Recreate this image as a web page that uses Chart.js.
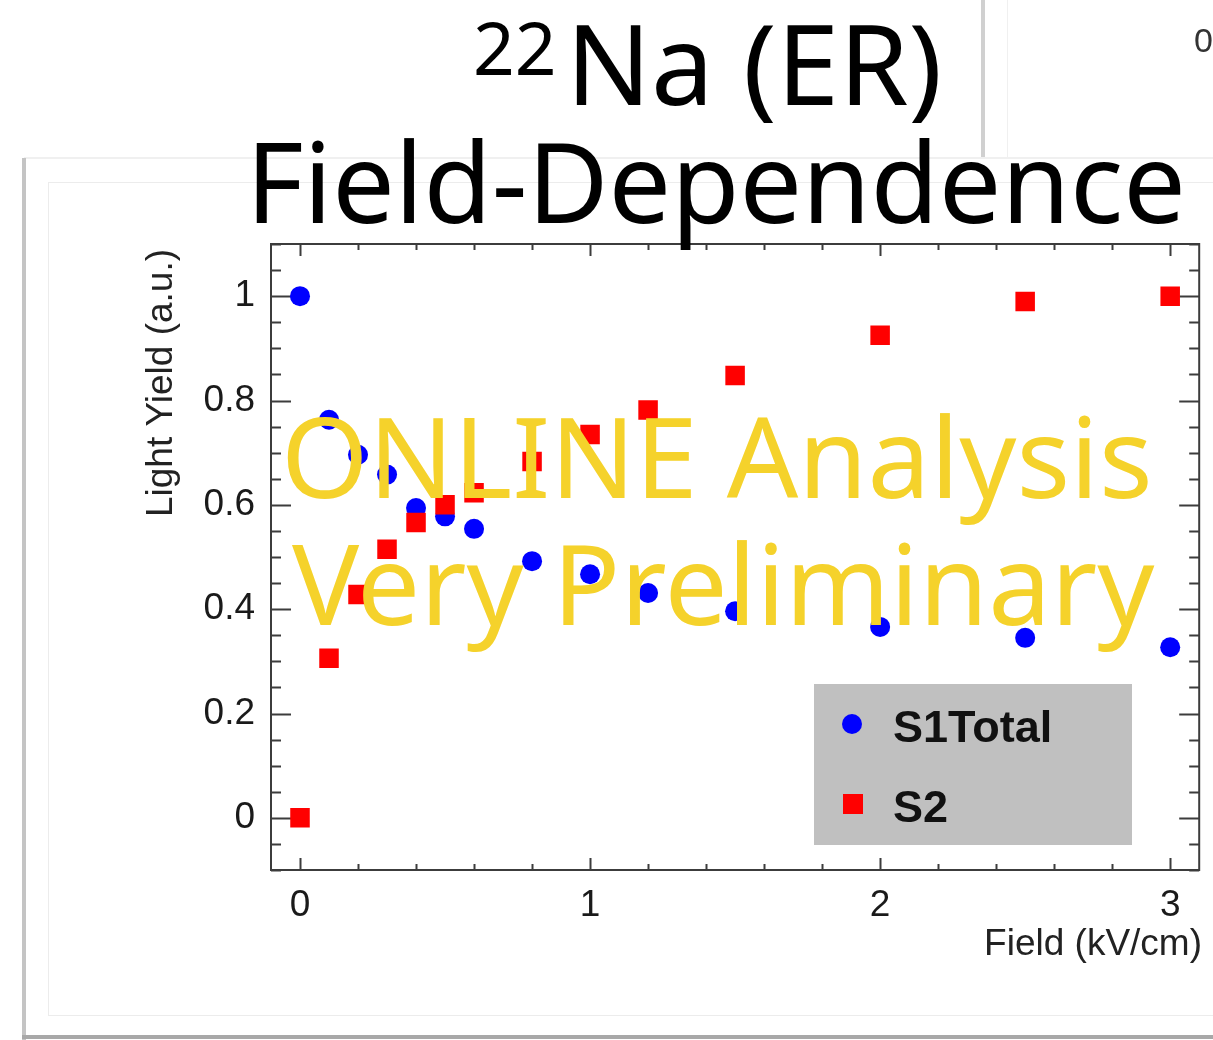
<!DOCTYPE html>
<html>
<head>
<meta charset="utf-8">
<script src="https://cdn.jsdelivr.net/npm/chart.js@4.4.1/dist/chart.umd.min.js"></script>
<style>
  html, body { margin: 0; padding: 0; background: #fff; }
  #myChart { display: block; }
</style>
</head>
<body>
<canvas id="myChart" width="1213" height="1040"></canvas>
<script>
// values
const fieldKV = [0, 0.1, 0.2, 0.3, 0.4, 0.5, 0.6, 0.8, 1.0, 1.2, 1.5, 2.0, 2.5, 3.0];
const s1Total = [1.0, 0.763, 0.696, 0.658, 0.594, 0.578, 0.554, 0.492, 0.467, 0.431, 0.396, 0.366, 0.345, 0.327];
const s2 = [0.0, 0.306, 0.428, 0.515, 0.566, 0.600, 0.623, 0.683, 0.735, 0.782, 0.848, 0.925, 0.990, 1.0];
const xTicks = [0, 1, 2, 3];
const yTicks = [0, 0.2, 0.4, 0.6, 0.8, 1];
const seriesNames = ["S1Total", "S2"];

function points(ys){
  return fieldKV.map(function(f, i){ return {x: f, y: ys[i]}; });
}

// slide / window outline behind the plot
const backdrop = {
  id: "backdrop",
  beforeDraw(chart){
    const ctx = chart.ctx;
    ctx.save();
    ctx.fillStyle = "#fff";
    ctx.fillRect(0, 0, chart.width, chart.height);
    ctx.fillStyle = "#d0d0d0";
    ctx.fillRect(981, 0, 4, 158);
    ctx.fillStyle = "#f0f0f0";
    ctx.fillRect(1007, 0, 1, 158);
    ctx.fillRect(24, 157, chart.width, 2);
    ctx.fillStyle = "#c4c4c4";
    ctx.fillRect(22, 158, 4, 882);
    ctx.fillStyle = "#a8a8a8";
    ctx.fillRect(22, 1035, chart.width, 4);
    ctx.strokeStyle = "#ececec";
    ctx.lineWidth = 1;
    ctx.strokeRect(48.5, 182.5, 1300, 833);
    ctx.fillStyle = "#333";
    ctx.font = "34px 'Liberation Sans'";
    ctx.textBaseline = "alphabetic";
    ctx.fillText("0", 1194, 52);
    ctx.restore();
  }
};

// ROOT style frame with inward ticks on all four sides
const rootFrame = {
  id: "rootFrame",
  beforeDatasetsDraw(chart){
    const ctx = chart.ctx, a = chart.chartArea;
    const x = chart.scales.x, y = chart.scales.y;
    ctx.save();
    ctx.strokeStyle = "#3c3c3c";
    ctx.lineWidth = 2;
    ctx.beginPath();
    for (let i = 0; i <= 15; i++) {
      const px = Math.round(x.getPixelForValue(i * 0.2)) + 0.5;
      const len = i % 5 === 0 ? 12 : 6;
      ctx.moveTo(px, a.bottom); ctx.lineTo(px, a.bottom - len);
      ctx.moveTo(px, a.top); ctx.lineTo(px, a.top + len);
    }
    for (let i = -2; i <= 22; i++) {
      const py = Math.round(y.getPixelForValue(i * 0.05)) + 0.5;
      const len = i % 4 === 0 ? 20 : 10;
      ctx.moveTo(a.left, py); ctx.lineTo(a.left + len, py);
      ctx.moveTo(a.right, py); ctx.lineTo(a.right - len, py);
    }
    ctx.stroke();
    ctx.strokeRect(a.left, a.top, a.right - a.left, a.bottom - a.top);
    ctx.restore();
  }
};

// grey legend box inside the plot
const rootLegend = {
  id: "rootLegend",
  afterDatasetsDraw(chart){
    const ctx = chart.ctx;
    const ds = chart.data.datasets;
    ctx.save();
    ctx.fillStyle = "#c0c0c0";
    ctx.fillRect(814, 684, 318, 161);
    ctx.font = "bold 45px 'Liberation Sans'";
    ctx.textBaseline = "alphabetic";
    const rows = [742, 822];
    ds.forEach(function(d, i){
      const cy = rows[i] - 18;
      ctx.fillStyle = d.backgroundColor;
      if (d.pointStyle === "circle") {
        ctx.beginPath();
        ctx.arc(852, cy, 10, 0, Math.PI * 2);
        ctx.fill();
      } else {
        ctx.fillRect(843, cy - 10, 20, 20);
      }
      ctx.fillStyle = "#111";
      ctx.fillText(d.label, 893, rows[i]);
    });
    ctx.restore();
  }
};

// slide title, axis titles and the yellow watermark
const overlayText = {
  id: "overlayText",
  afterDraw(chart){
    const ctx = chart.ctx;
    ctx.save();
    ctx.fillStyle = "#222";
    ctx.font = "37px 'Liberation Sans'";
    ctx.textAlign = "right";
    ctx.textBaseline = "alphabetic";
    ctx.fillText("Field (kV/cm)", 1202, 955);
    ctx.save();
    ctx.translate(172, 383);
    ctx.rotate(-Math.PI / 2);
    ctx.textAlign = "center";
    ctx.fillText("Light Yield (a.u.)", 0, 0);
    ctx.restore();

    ctx.fillStyle = "#F5D22B";
    ctx.textAlign = "left";
    ctx.font = "112px 'Noto Sans'";
    ctx.fillText("ONLINE Analysis", 281, 498);
    ctx.fillText("Very Preliminary", 292, 625);

    ctx.fillStyle = "#000";
    ctx.font = "73px 'Noto Sans'";
    ctx.fillText("22", 473, 75);
    ctx.font = "112px 'Noto Sans'";
    ctx.fillText("Na (ER)", 566, 105);
    ctx.font = "111px 'Noto Sans'";
    ctx.fillText("Field-Dependence", 246, 223);
    ctx.restore();
  }
};

const myChart = new Chart(document.getElementById("myChart"), {
  type: "scatter",
  data: {
    datasets: [{
      label: seriesNames[0],
      data: points(s1Total),
      pointStyle: "circle",
      pointRadius: 10,
      backgroundColor: "#0000ff",
      borderWidth: 0,
      order: 1
    }, {
      label: seriesNames[1],
      data: points(s2),
      pointStyle: "rect",
      pointRadius: 13.8,
      backgroundColor: "#ff0000",
      borderWidth: 0,
      order: 0
    }]
  },
  options: {
    responsive: false,
    animation: false,
    devicePixelRatio: 1,
    events: [],
    layout: { padding: { top: 244, right: 11, bottom: 0, left: 0 } },
    plugins: { legend: { display: false }, tooltip: { enabled: false } },
    scales: {
      x: {
        type: "linear",
        min: -0.1,
        max: 3.1,
        afterFit: function(s){ s.height = 170; s.paddingLeft = 0; s.paddingRight = 0; },
        afterBuildTicks: function(s){ s.ticks = xTicks.map(function(v){ return {value: v}; }); },
        grid: { display: false, drawTicks: false },
        border: { display: false },
        ticks: {
          padding: 14,
          color: "#1a1a1a",
          font: { family: "'Liberation Sans'", size: 37 },
          maxRotation: 0,
          callback: function(v){ return String(Math.round(v * 10) / 10); }
        }
      },
      y: {
        type: "linear",
        min: -0.1,
        max: 1.1,
        afterFit: function(s){ s.width = 271; s.paddingTop = 0; s.paddingBottom = 0; },
        afterBuildTicks: function(s){ s.ticks = yTicks.map(function(v){ return {value: v}; }); },
        grid: { display: false, drawTicks: false },
        border: { display: false },
        ticks: {
          padding: 16,
          color: "#1a1a1a",
          font: { family: "'Liberation Sans'", size: 37 },
          callback: function(v){ return String(Math.round(v * 10) / 10); }
        }
      }
    }
  },
  plugins: [backdrop, rootFrame, rootLegend, overlayText]
});
</script>
</body>
</html>
